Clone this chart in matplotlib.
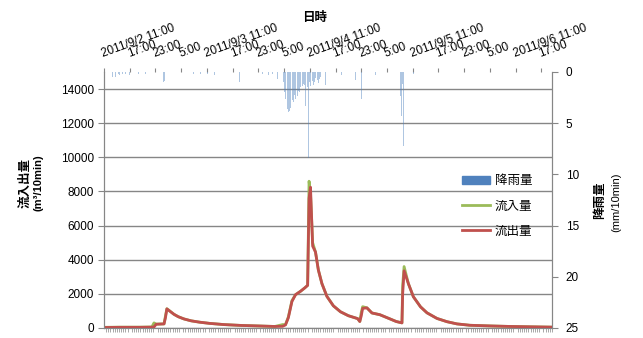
import matplotlib
matplotlib.use("Agg")
import matplotlib.pyplot as plt
from matplotlib.patches import Patch
from matplotlib.lines import Line2D
from matplotlib.ticker import MultipleLocator

plt.rcParams['font.family'] = ['Liberation Sans', 'Noto Sans CJK JP']

# 10分間隔, 2011/9/2 11:00 からのステップ数
N_STEPS = 627

tick_labels = [
    "2011/9/2 11:00", "17:00", "23:00", "5:00",
    "2011/9/3 11:00", "17:00", "23:00", "5:00",
    "2011/9/4 11:00", "17:00", "23:00", "5:00",
    "2011/9/5 11:00", "17:00", "23:00", "5:00",
    "2011/9/6 11:00", "17:00",
]

# 流入量・流出量 (m3/10min) 読み取り点
flow_idx = [0, 22, 50, 67, 70, 73, 84, 86, 88, 92, 98, 104, 112, 122, 134,
            148, 168, 192, 216, 239, 250, 254, 258, 263, 268, 275, 281, 285,
            287, 289, 292, 296, 300, 305, 312, 321, 331, 342, 355, 358, 360,
            362, 368, 375, 386, 401, 409, 417, 418, 420, 426, 433, 443, 452,
            466, 480, 494, 512, 541, 569, 597, 627]
inflow = [40, 50, 50, 60, 300, 230, 240, 700, 1130, 1000, 800, 660, 530, 420,
          340, 270, 200, 150, 120, 90, 200, 200, 650, 1600, 1950, 2150, 2350,
          2500, 8600, 7900, 5000, 4450, 3400, 2600, 1850, 1300, 950, 720, 550,
          380, 900, 1250, 1180, 880, 780, 520, 380, 300, 2500, 3600, 2600,
          1830, 1240, 890, 560, 370, 240, 160, 120, 90, 70, 50]
outflow = [30, 40, 40, 50, 60, 220, 240, 600, 1120, 990, 800, 660, 530, 420,
           340, 270, 200, 150, 120, 90, 100, 180, 600, 1550, 1950, 2150, 2350,
           2500, 7600, 8250, 4800, 4450, 3400, 2600, 1850, 1300, 950, 720, 550,
           380, 700, 1150, 1180, 880, 780, 520, 380, 300, 2000, 3350, 2600,
           1830, 1240, 890, 560, 370, 240, 160, 120, 90, 70, 50]

# 降雨量 (mm/10min)
rain_idx = [12, 14, 16, 18, 20, 22, 26, 30, 36, 42, 48, 52, 58, 70,
            81, 83, 85, 87, 88, 95, 105, 115, 125, 135, 145, 155, 165, 175,
            182, 190, 222, 230, 236, 243, 245,
            251, 252, 253, 254, 255, 256, 257, 258, 259, 260, 261, 262, 263,
            264, 265, 266, 267, 268, 269, 270, 271, 272, 273, 274, 275, 276,
            277, 278, 279, 280, 281, 282, 283, 284, 285, 286, 287, 288, 289,
            290, 291, 292, 293, 294, 295, 296, 297, 298, 299, 300, 301, 302,
            303, 304, 310, 332, 336, 340, 352, 354, 358, 360,
            375, 380, 385, 392, 415, 416, 417, 418, 419, 420, 431, 433]
rain_mm = [0.5, 0.4, 0.5, 0.3, 0.2, 0.3, 0.2, 0.2, 0.3, 0.2, 0.2, 0.3, 0.2, 1.7,
           0.8, 1.0, 0.9, 3.6, 0.7, 0.2, 0.2, 0.3, 0.2, 0.2, 0.2, 0.3, 0.2, 0.3,
           0.5, 1.0, 0.2, 0.3, 0.2, 0.7, 1.3,
           1.0, 1.6, 2.0, 2.6, 3.0, 3.3, 3.6, 3.9, 4.1, 3.8, 3.5, 3.0, 3.2,
           2.7, 2.9, 2.5, 2.2, 2.6, 2.0, 1.8, 2.3, 1.9, 1.6, 2.0, 1.5, 1.3,
           1.7, 1.4, 1.2, 1.5, 1.3, 3.3, 3.6, 1.2, 1.5, 8.4, 1.6, 1.0, 1.4,
           0.8, 1.2, 0.9, 1.3, 0.7, 1.0, 0.6, 0.9, 0.5, 0.8, 1.1, 0.6, 0.7,
           0.5, 0.4, 1.3, 0.3, 0.2, 0.3, 0.8, 1.1, 1.0, 2.6,
           0.2, 0.3, 0.2, 0.2, 2.3, 4.3, 4.0, 1.2, 7.2, 0.8, 0.2, 0.2]

GRAY = '#868686'
C_RAIN = '#4F81BD'
C_IN = '#9BBB59'
C_OUT = '#C0504D'

fig = plt.figure(figsize=(6.43, 3.38), dpi=100)
ax = fig.add_axes([104 / 643, 10 / 338, 448 / 643, 256 / 338])

ax.plot(flow_idx, inflow, color=C_IN, lw=2.0, zorder=3)
ax.plot(flow_idx, outflow, color=C_OUT, lw=2.0, zorder=4)

ax.set_xlim(0, N_STEPS)
ax.set_ylim(0, 15000)
ax.set_yticks(range(0, 14001, 2000))
ax.yaxis.grid(True, color=GRAY, lw=1)
ax.set_axisbelow(True)

for s in ['left', 'right', 'bottom']:
    ax.spines[s].set_color(GRAY)
ax.spines['top'].set_visible(False)

ax.set_xticks(range(0, 36 * len(tick_labels), 36))
ax.set_xticklabels(tick_labels)
ax.xaxis.set_minor_locator(MultipleLocator(3))
ax.tick_params(axis='x', which='major', top=True, bottom=False,
               labeltop=True, labelbottom=False, length=3, color=GRAY,
               labelsize=8.5, pad=6)
ax.tick_params(axis='x', which='minor', top=False, bottom=True,
               length=3, width=0.5, color=GRAY)
ax.tick_params(axis='y', length=4, color=GRAY, labelsize=8.5, pad=3)
for lbl in ax.get_xticklabels():
    lbl.set_rotation(20)
    lbl.set_rotation_mode('anchor')
    lbl.set_ha('left')
    lbl.set_va('bottom')

ax2 = ax.twinx()
ax2.bar(rain_idx, rain_mm, width=0.8, color=C_RAIN, alpha=0.45, linewidth=0)
ax2.set_ylim(25, 0)
ax2.set_yticks(range(0, 26, 5))
ax2.tick_params(axis='y', length=4, color=GRAY, labelsize=8.5, pad=6)
for s in ['left', 'right', 'bottom']:
    ax2.spines[s].set_color(GRAY)
ax2.spines['top'].set_visible(False)

handles = [Patch(color=C_RAIN), Line2D([], [], color=C_IN, lw=2),
           Line2D([], [], color=C_OUT, lw=2)]
ax2.legend(handles, ['降雨量', '流入量', '流出量'], loc='upper left',
           bbox_to_anchor=(0.775, 0.64), frameon=False, fontsize=9,
           handlelength=2.2, handleheight=0.6, labelspacing=1.05,
           handletextpad=0.4)

fig.text(315 / 643, 1 - 18 / 338, '日時', ha='center', va='center',
         fontsize=9, fontweight='bold')
fig.text(25 / 643, 1 - 183 / 338, '流入出量', rotation=90, ha='center',
         va='center', fontsize=9, fontweight='bold')
fig.text(38 / 643, 1 - 183 / 338, '(m³/10min)', rotation=90, ha='center',
         va='center', fontsize=8, fontweight='bold')
fig.text(600 / 643, 1 - 200 / 338, '降雨量', rotation=90, ha='center',
         va='center', fontsize=9, fontweight='bold')
fig.text(616 / 643, 1 - 202 / 338, '(mm/10min)', rotation=90, ha='center',
         va='center', fontsize=8)

fig.savefig('out.png', dpi=100)
